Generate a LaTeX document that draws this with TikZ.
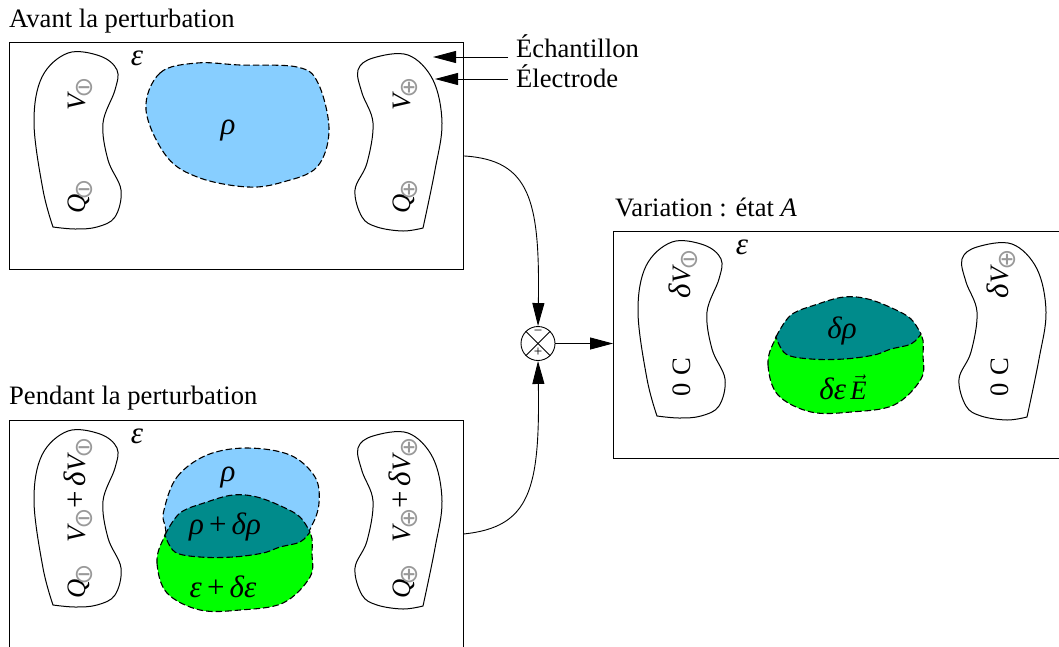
\documentclass[tikz,border=0pt]{standalone}
\usepackage{amsmath}
\usepackage{graphicx}
\usepackage{fontspec}
\setmainfont{Liberation Serif}
\newfontfamily\signfont{DejaVu Sans}
\usetikzlibrary{arrows.meta}

\definecolor{rhoblue}{RGB}{135,206,255}
\definecolor{epsgreen}{RGB}{0,255,0}
\definecolor{deltateal}{RGB}{0,139,139}

\newcommand{\subminus}{\hspace{-3.5pt}\textcolor{gray!80}{\raisebox{-7pt}{\fontsize{25}{25}\signfont\rotatebox[origin=c]{-90}{⊖}}}\hspace{-3.5pt}}
\newcommand{\subplus}{\hspace{-3.5pt}\textcolor{gray!80}{\raisebox{-7pt}{\fontsize{25}{25}\signfont\rotatebox[origin=c]{-90}{⊕}}}\hspace{-3.5pt}}
\newcommand{\gk}[1]{{\fontsize{31}{31}\selectfont\textit{#1}}}
\newcommand{\bigplus}{{\fontsize{31}{31}\selectfont\,+\,}}
\newcommand{\electrodeleft}{plot[smooth, tension=0.6] coordinates {(53,227) (43,190) (34,123) (42,77) (68,53) (100,56) (117,70) (115,90) (103,123) (108,160) (121,190) (115,217) (97,227) (75,229) (53,227)} -- cycle}
\newcommand{\electroderight}{plot[smooth, tension=0.6] coordinates {(423,228) (435,170) (442,123) (433,80) (408,55) (373,58) (358,70) (362,93) (373,123) (367,163) (355,190) (362,217) (377,227) (403,231) (423,228)} -- cycle}
\newcommand{\rhogreen}{plot[smooth cycle, tension=0.6] coordinates {(163,540) (157,563) (167,593) (200,610) (240,610) (283,603) (310,577) (312,553) (311,535) (300,530) (240,525) (175,530)}}
\newcommand{\rhoteal}{plot[smooth, tension=0.6] coordinates {(165,535) (180,513) (207,502) (233,495) (257,497) (283,507) (300,517) (310,532)} -- plot[smooth, tension=0.6] coordinates {(310,532) (300,542) (280,547) (263,553) (233,557) (200,557) (175,552) (165,535)} -- cycle}

\tikzset{
    panelbox/.style={draw, line width=0.9pt, anchor=north west, minimum width=454pt, minimum height=227pt, inner sep=0pt},
    electrode/.style={draw, line width=1pt},
    blob/.style={draw, line width=1.1pt, dash pattern=on 6.5pt off 3pt},
    sideways/.style={rotate=90, anchor=base, inner sep=0pt},
    caption/.style={anchor=base west, inner sep=0pt},
    flow/.style={line width=0.9pt, -{Triangle[length=23pt, width=12pt]}}
}

\begin{document}
\begin{tikzpicture}[x=1pt, y=-1pt, font=\fontsize{26.6}{28}\selectfont]
            \clip (0, 0) rectangle (1059, 646);

            % before
            \node[caption] (avanttitle) at (9, 27) {Avant la perturbation};
            \node[panelbox] (avantbox) at (9, 42) {};
            \draw[electrode] \electrodeleft;
            \draw[electrode] \electroderight;
            \draw[blob, fill=rhoblue] plot[smooth cycle, tension=0.6] coordinates {(146,110) (160,73) (197,63) (240,65) (297,67) (318,83) (329,130) (317,167) (283,182) (248,187) (200,178) (167,157)};
            \node (avanteps) at (137, 58) {\gk{ε}};
            \node (avantrho) at (228, 131) {\gk{ρ}};
            \node[sideways] (avantvm) at (85, 95) {\textit{V}\subminus};
            \node[sideways] (avantqm) at (85, 197) {\textit{Q}\subminus};
            \node[sideways] (avantvp) at (410, 95) {\textit{V}\subplus};
            \node[sideways] (avantqp) at (410, 197) {\textit{Q}\subplus};

            % during
            \node[caption] (pendanttitle) at (9, 404) {Pendant la perturbation};
            \node[panelbox] (pendantbox) at (9, 420) {};
            \draw[electrode, yshift=-378pt] \electrodeleft;
            \draw[electrode, yshift=-378pt] \electroderight;
            \draw[blob, fill=rhoblue] plot[smooth cycle, tension=0.6] coordinates {(164,510) (177,477) (207,455) (247,448) (290,455) (315,477) (319,503) (312,525) (300,535) (240,545) (175,540) (165,525)};
            \draw[blob, fill=epsgreen] \rhogreen;
            \draw[blob, fill=deltateal] \rhoteal;
            \node (pendanteps) at (137, 436) {\gk{ε}};
            \node (pendantrho) at (228, 478) {\gk{ρ}};
            \node (pendantdrho) at (225, 527) {\gk{ρ}\bigplus\gk{δρ}};
            \node (pendantdeps) at (223, 587) {\gk{ε}\bigplus\gk{δε}};
            \node[sideways] (pendantvm) at (85, 491) {\textit{V}\subminus\bigplus\gk{δ}\textit{V}\subminus};
            \node[sideways] (pendantqm) at (85, 582) {\textit{Q}\subminus};
            \node[sideways] (pendantvp) at (410, 491) {\textit{V}\subplus\bigplus\gk{δ}\textit{V}\subplus};
            \node[sideways] (pendantqp) at (410, 582) {\textit{Q}\subplus};

            % state A
            \node[caption] (varitle) at (615, 216) {Variation : état \textit{A}};
            \node[panelbox] (varbox) at (613, 231) {};
            \draw[electrode, xshift=604pt, yshift=-189pt] \electrodeleft;
            \draw[electrode, xshift=604pt, yshift=-189pt] \electroderight;
            \draw[blob, fill=epsgreen, xshift=611pt, yshift=198pt] \rhogreen;
            \draw[blob, fill=deltateal, xshift=611pt, yshift=198pt] \rhoteal;
            \node (vareps) at (742, 247) {\gk{ε}};
            \node (vardrho) at (842, 331) {\gk{δρ}};
            \node (vardeps) at (843, 387) {\gk{δε}\,$\vec{\mbox{\textit{E}}}$};
            \node[sideways] (varvm) at (690, 275) {\gk{δ}\textit{V}\subminus};
            \node[sideways] (varqm) at (690, 377) {0\;C};
            \node[sideways] (varvp) at (1008, 275) {\gk{δ}\textit{V}\subplus};
            \node[sideways] (varqp) at (1008, 377) {0\;C};

            % labels at the top right
            \node[caption, inner xsep=8pt] (echlabel) at (508, 57) {Échantillon};
            \node[caption, inner xsep=8pt] (eleclabel) at (508, 87) {Électrode};
            \coordinate (echtip) at (433, 57);
            \coordinate (electip) at (435, 79);
            \draw[flow] (echlabel.base west) -- (echtip);
            \draw[flow] ([yshift=8pt]eleclabel.base west) -- (electip);

            % comparator
            \node[draw, circle, line width=0.9pt, minimum size=34pt, inner sep=0pt] (sumnode) at (538, 343.5) {};
            \draw[line width=0.8pt] (sumnode.45) -- (sumnode.225);
            \draw[line width=0.8pt] (sumnode.135) -- (sumnode.315);
            \node[inner sep=0pt, font=\fontsize{15}{15}\selectfont] (minusmark) at (538, 333) {−};
            \node[inner sep=0pt, font=\fontsize{15}{15}\selectfont] (plusmark) at (538, 352) {+};
            \draw[flow] (avantbox.east) .. controls (530, 160) and (540, 200) .. (sumnode.north);
            \draw[flow] (pendantbox.east) .. controls (530, 527) and (540, 490) .. (sumnode.south);
            \draw[flow] (sumnode.east) -- (sumnode.east -| varbox.west);
\end{tikzpicture}
\end{document}
